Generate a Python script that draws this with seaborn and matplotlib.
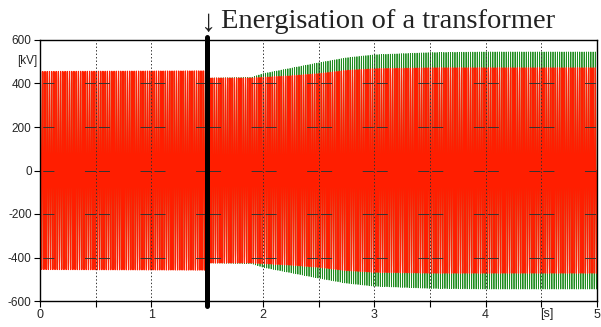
import numpy as np
import pandas as pd
from matplotlib import pyplot as plt
import seaborn as sns

# peak values of the two phase voltages (kV)
env_time = [0.0, 1.5, 1.52, 1.9, 2.0, 2.25, 2.5, 2.75, 3.0, 3.5, 4.0, 5.0]
red_peak = [455, 458, 425, 425, 428, 435, 445, 460, 468, 472, 472, 472]
green_peak = [450, 452, 425, 428, 445, 470, 495, 518, 532, 542, 545, 545]
freq = 50  # Hz, system frequency
switch_time = 1.5  # s, transformer energised
y_ticks = [-600, -400, -200, 0, 200, 400, 600]
x_ticks = [0, 1, 2, 3, 4, 5]

# build the 50 Hz waveforms from the read envelopes
t = np.linspace(0, 5, 12001)
carrier = np.sin(2 * np.pi * freq * t)
green_df = pd.DataFrame({"t": t, "v": np.interp(t, env_time, green_peak) * carrier})
red_df = pd.DataFrame({"t": t, "v": np.interp(t, env_time, red_peak) * carrier})

sns.set_theme(style="white")
plt.rcParams["lines.scale_dashes"] = False
narrow = ["Liberation Sans Narrow", "Liberation Sans", "DejaVu Sans"]

fig = plt.figure(figsize=(6.01, 3.27), dpi=100)
ax = fig.add_axes([40 / 601, 1 - 301 / 327, 557 / 601, 261 / 327])

sns.lineplot(data=green_df, x="t", y="v", color="#1e8c1e", estimator=None,
             sort=False, linewidth=0.6, ax=ax)
sns.lineplot(data=red_df, x="t", y="v", color="#ff1e00", estimator=None,
             sort=False, linewidth=0.9, ax=ax)

ax.set_xlim(0, 5)
ax.set_ylim(-600, 600)
ax.set_xticks(x_ticks)
ax.set_xticks(np.arange(0.5, 5, 1), minor=True)
ax.set_yticks(y_ticks)
ax.set_xticklabels([str(x) for x in x_ticks], family=narrow, fontsize=9)
ax.set_yticklabels([str(y) for y in y_ticks], family=narrow, fontsize=8.5)
ax.tick_params(axis="both", which="both", direction="out", length=4, width=0.8,
               color="black", pad=2, bottom=True, left=True)
ax.set_xlabel("")
ax.set_ylabel("")
for s in ax.spines.values():
    s.set_color("black")
    s.set_linewidth(1.0)

# grid: dotted verticals every half second, dashed horizontals
for x in np.arange(0.5, 5, 0.5):
    ax.axvline(x, color="#333333", linestyle=(0, (1, 1.5)), linewidth=0.7, zorder=3)
for y in [-400, -200, 0, 200, 400]:
    ax.axhline(y, color="#333333", linestyle=(8, (8, 2, 8, 22)), linewidth=0.7, zorder=3)

# switching instant
ax.plot([switch_time, switch_time], [-622, 615], color="black", linewidth=3.6,
        clip_on=False, zorder=5)

ax.text(-3 / 557, 505, "[kV]", family=narrow, fontsize=8.5, ha="right", va="center",
        transform=ax.get_yaxis_transform())
ax.text(4.55, -662, "[s]", family=narrow, fontsize=9, ha="center", va="center")
serif = ["Liberation Serif", "DejaVu Serif"]
fig.text(209 / 601, 1 - 24 / 327, "\u2193", family=serif, fontsize=22,
         ha="center", va="center", color="#222222")
fig.text(221 / 601, 1 - 22 / 327, "Energisation of a transformer",
         family=serif, fontsize=20.5, ha="left", va="center", color="#222222")

plt.savefig("out.png", dpi=100)
